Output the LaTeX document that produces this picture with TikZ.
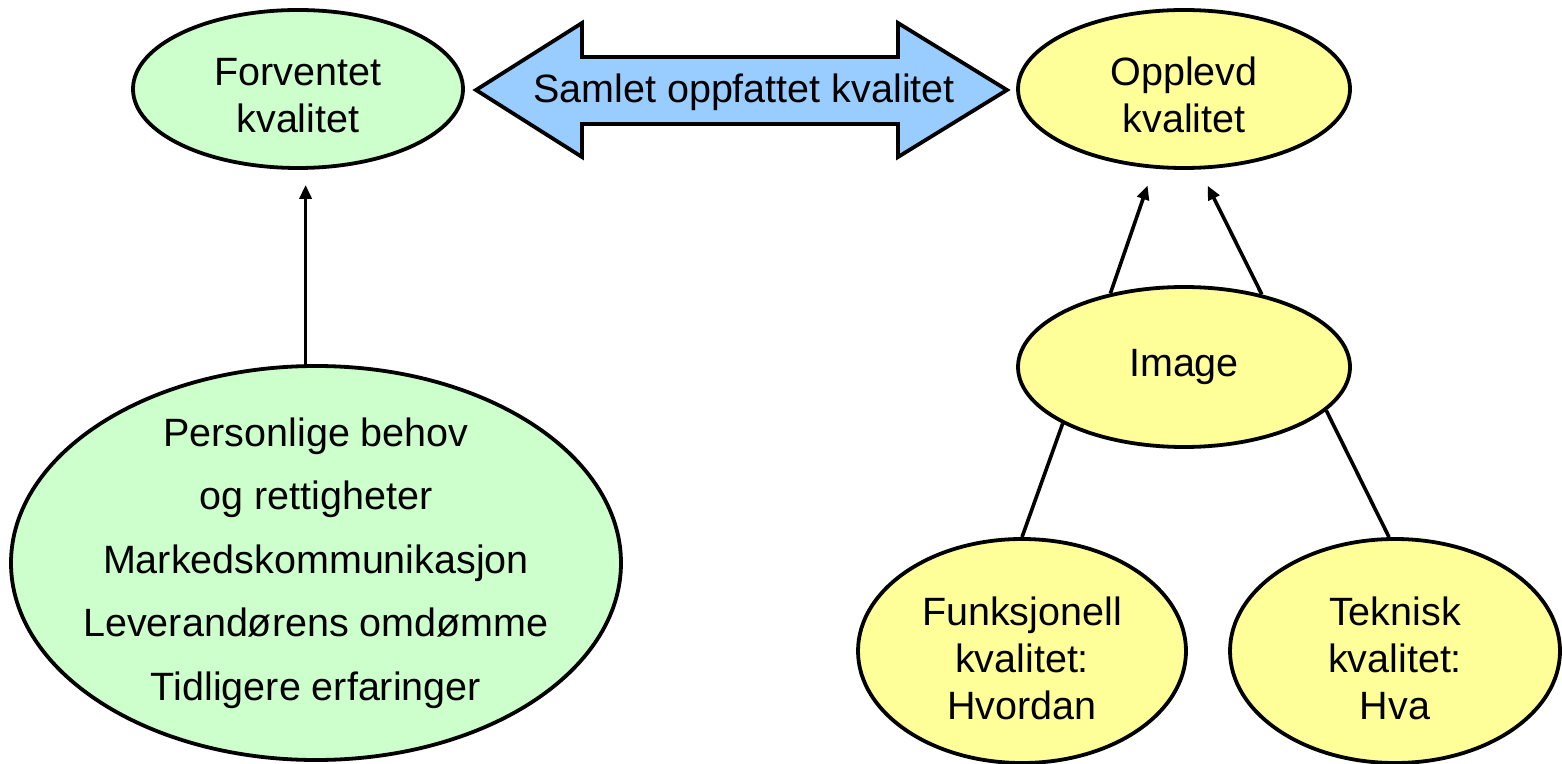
\documentclass[tikz,border=0pt]{standalone}
\usepackage{fontspec}
\setmainfont{Liberation Sans}
\usetikzlibrary{arrows.meta,shapes.geometric}
\definecolor{lgreen}{HTML}{CCFFCC}
\definecolor{lyellow}{HTML}{FFFF99}
\definecolor{lblue}{HTML}{99CCFF}
\newcommand{\lowA}{\rule{0pt}{20.5pt}}
\newcommand{\lowB}{\rule{0pt}{21.5pt}}
\begin{document}
\begin{tikzpicture}[x=0.5pt,y=-0.5pt,
  bub/.style={ellipse, draw, line width=1.9pt, inner sep=0pt, align=center,
    font=\fontsize{19.75pt}{23.5pt}\selectfont},
  conn/.style={line width=1.8pt},
  arr/.style={conn, -{Triangle[length=7pt,width=6pt]}},
  lbl/.style={font=\fontsize{19.75pt}{23.5pt}\selectfont, inner sep=0pt}]
\useasboundingbox (0,0) rectangle (1562,764);
% double arrow
\draw[line width=1.9pt, fill=lblue, line join=miter]
  (476,90) -- (582,23) -- (582,57) -- (898,57) -- (898,23) -- (1007,90)
  -- (898,157) -- (898,124) -- (582,124) -- (582,157) -- cycle;
\node[lbl] (samlet) at (744,92) {Samlet oppfattet kvalitet};
% ellipses
\node[bub, fill=lgreen, minimum width=165pt, minimum height=79pt] (forv) at (298,89) {\lowA Forventet\\kvalitet};
\node[bub, fill=lyellow, minimum width=166pt, minimum height=79pt] (oppl) at (1184,89) {\lowA Opplevd\\kvalitet};
\node[bub, fill=lyellow, minimum width=166pt, minimum height=80pt] (img) at (1184,367) {Image};
\node[bub, fill=lyellow, minimum width=164pt, minimum height=112pt] (funk) at (1022,651) {\lowB Funksjonell\\kvalitet:\\Hvordan};
\node[bub, fill=lyellow, minimum width=165pt, minimum height=112pt] (tekn) at (1395,651) {\lowB Teknisk\\kvalitet:\\Hva};
\node[bub, fill=lgreen, minimum width=305pt, minimum height=197pt, inner ysep=-8pt, inner xsep=-12pt,
  font=\fontsize{19.75pt}{31.75pt}\selectfont] (big) at (316,563)
  {Personlige behov\\og rettigheter\\Markedskommunikasjon\\Leverandørens omdømme\\Tidligere erfaringer};
% connectors
\draw[arr, shorten >=7.5pt] (big.93) -- (big.93 |- forv.south);
\draw[arr, shorten >=9pt] (img.135) -- (oppl.249);
\draw[arr, shorten >=9pt] (img.43) -- (oppl.281);
\draw[conn] (img.205) -- (funk.north);
\draw[conn] (img.343) -- (tekn.93);
\end{tikzpicture}
\end{document}
